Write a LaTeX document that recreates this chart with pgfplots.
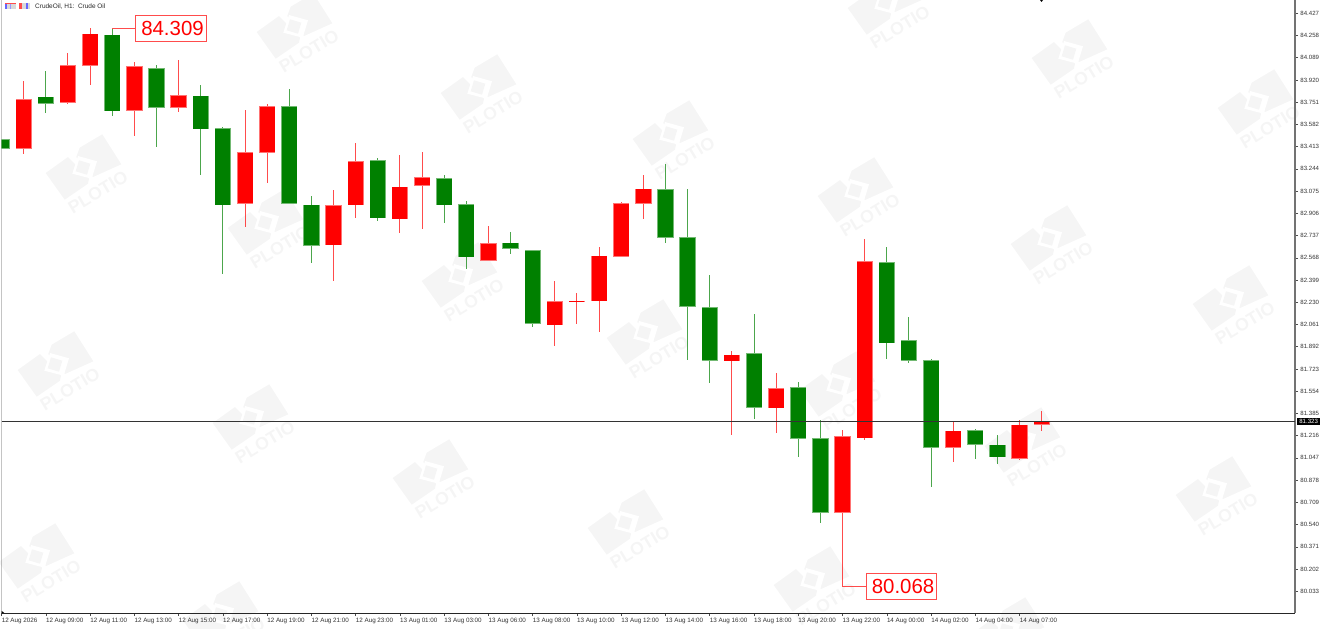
\documentclass[border=0pt]{standalone}
\usepackage{fontspec}
\setmainfont{Liberation Sans}
\usepackage{pgfplots}
\usepackage{pgfplotstable}
\pgfplotsset{compat=1.18}

\definecolor{candlegreen}{RGB}{0,128,0}
\definecolor{candlered}{RGB}{255,0,0}
\definecolor{wmark}{gray}{0.96}

% i hi top bottom lo
\pgfplotstableread{
i  hi     top    bot    lo
0  83.471 83.471 83.398 83.398
2  83.991 83.791 83.740 83.671
5  84.309 84.264 83.682 83.646
7  84.034 84.011 83.707 83.408
9  83.882 83.801 83.545 83.198
10 83.565 83.555 82.967 82.445
13 83.852 83.722 82.977 82.977
14 83.040 82.972 82.658 82.526
17 83.325 83.309 82.869 82.850
20 83.195 83.173 82.967 82.835
21 83.000 82.977 82.572 82.485
23 82.764 82.683 82.635 82.599
24 82.628 82.625 82.065 82.044
30 83.281 83.089 82.721 82.678
31 83.091 82.724 82.197 81.791
32 82.435 82.194 81.786 81.614
34 82.139 81.842 81.429 81.341
36 81.623 81.584 81.193 81.056
37 81.333 81.196 80.630 80.550
40 82.650 82.536 81.918 81.799
41 82.120 81.941 81.786 81.771
42 81.799 81.789 81.125 80.828
44 81.267 81.257 81.145 81.039
45 81.221 81.147 81.052 81.003
}\greencandles

\pgfplotstableread{
i  hi     top    bot    lo
1  83.912 83.775 83.398 83.357
3  84.123 84.034 83.745 83.737
4  84.313 84.270 84.029 83.882
6  84.059 84.024 83.687 83.496
8  84.072 83.804 83.707 83.677
11 83.692 83.370 82.977 82.800
12 83.735 83.720 83.367 83.135
15 83.084 82.967 82.663 82.390
16 83.439 83.304 82.967 82.873
18 83.350 83.109 82.861 82.759
19 83.370 83.180 83.114 82.785
22 82.810 82.678 82.546 82.546
25 82.390 82.238 82.057 81.900
26 82.298 82.242 82.230 82.065
27 82.653 82.584 82.238 82.002
28 82.995 82.983 82.577 82.577
29 83.198 83.094 82.977 82.863
33 81.862 81.832 81.781 81.223
35 81.690 81.578 81.424 81.239
38 81.259 81.211 80.630 80.068
39 82.711 82.542 81.198 81.185
43 81.318 81.252 81.125 81.018
46 81.333 81.299 81.039 81.029
47 81.404 81.323 81.297 81.254
}\redcandles

% wick, light edge of the body, body
\newcommand{\candles}[2]{
  \addplot[draw=none, forget plot, error bars/.cd, y dir=both, y explicit, error mark=none,
    error bar style={draw=#2, opacity=0.7, line width=1bp}]
    table[x=i, y=top, y error plus expr=\thisrow{hi}-\thisrow{top}, y error minus expr=\thisrow{top}-\thisrow{lo}] {#1};
  \addplot[draw=none, forget plot, error bars/.cd, y dir=minus, y explicit, error mark=none,
    error bar style={draw=#2!55, line width=16.3bp}]
    table[x=i, y=top, y error minus expr=\thisrow{top}-\thisrow{bot}] {#1};
  \addplot[draw=none, forget plot, error bars/.cd, y dir=minus, y explicit, error mark=none,
    error bar style={draw=#2, line width=15bp}]
    table[x=i, y expr=\thisrow{top}-0.004, y error minus expr=\thisrow{top}-\thisrow{bot}-0.008] {#1};
}

% watermark, centred on image pixel (#1,#2)
\newcommand{\wm}[2]{
  \begin{scope}[shift={({(#1-1.5)*1bp},{(613-#2)*1bp})}, x=1bp, y=1bp]
    \fill[wmark] (-37.3,-6) -- (-15,10) -- (6,-11.7) -- (5,-16.7) -- (-18.3,-32.7) -- cycle;
    \fill[wmark] (-3.3,19.3) -- (19.3,32.7) -- (38.3,2.7) -- (10,-10) -- (-6.7,10) -- cycle;
    \fill[white] (-5,11) -- (14,5.7) -- (8.7,-11.7) -- (-10.7,-6.7) -- cycle;
    \fill[wmark] (-4,6.7) -- (7.3,3.3) -- (4,-7.7) -- (-7.3,-4.3) -- cycle;
    \node[rotate=31, text=wmark, inner sep=0] at (15,-25) {\fontsize{17.8}{20}\selectfont\bfseries PLOTIO};
  \end{scope}
}

\begin{document}
\begin{tikzpicture}
  \path[use as bounding box] (-1.5bp,-16bp) rectangle (1327.5bp,613bp);

  \foreach \wx/\wy in {885/2,1069/52,1255/102,294/26,478/87,670/133,855/190,1048/238,1230/298,
      83/167,265/222,459/275,644/332,837/384,1022/440,1213/489,
      55/364,250/417,430/472,625/522,811/579,1006/630,36/556,220/614}
    {\wm{\wx}{\wy}}

  \begin{axis}[
    at={(0,0)}, anchor=south west,
    scale only axis,
    width=1293.5bp, height=613bp,
    xmin=-0.003, xmax=58.447,
    ymin=79.868, ymax=84.528,
    clip mode=individual,
    axis x line=bottom,
    axis y line=right,
    axis line style={-},
    x axis line style={black!85, line width=0.8bp},
    y axis line style={black!55, line width=1.2bp},
    tick align=outside,
    major tick length=3bp,
    tick style={black!70, line width=0.6bp},
    xtick={0,2,...,46},
    xticklabels={12 Aug 2026,12 Aug 09:00,12 Aug 11:00,12 Aug 13:00,12 Aug 15:00,12 Aug 17:00,
      12 Aug 19:00,12 Aug 21:00,12 Aug 23:00,13 Aug 01:00,13 Aug 03:00,13 Aug 06:00,
      13 Aug 08:00,13 Aug 10:00,13 Aug 12:00,13 Aug 14:00,13 Aug 16:00,13 Aug 18:00,
      13 Aug 20:00,13 Aug 22:00,14 Aug 00:00,14 Aug 02:00,14 Aug 04:00,14 Aug 07:00},
    x tick label style={anchor=north west, inner sep=0pt, yshift=-2bp, text=black!80,
      font=\fontsize{6.3}{7}\selectfont},
    ytick={80.033,80.202,80.371,80.540,80.709,80.878,81.047,81.216,81.385,81.554,81.723,81.892,
      82.061,82.230,82.399,82.568,82.737,82.906,83.075,83.244,83.413,83.582,83.751,83.920,
      84.089,84.258,84.427},
    y tick label style={anchor=west, inner sep=0pt, xshift=2.2bp, text=black!80,
      font=\fontsize{6.1}{7}\selectfont,
      /pgf/number format/fixed, /pgf/number format/fixed zerofill,
      /pgf/number format/precision=3, /pgf/number format/assume math mode=true},
    scaled y ticks=false,
    ]

    % left border
    \addplot[black!65, line width=1bp, forget plot] coordinates {(-0.003,79.868) (-0.003,84.528)};

    \candles{\greencandles}{candlegreen}
    \candles{\redcandles}{candlered}

    % last price line
    \addplot[black!80, line width=0.8bp, forget plot] coordinates {(-0.003,81.323) (58.447,81.323)};

    % high and low callouts
    \addplot[candlered, opacity=0.7, line width=0.8bp, forget plot] coordinates {(5,84.309) (6.1,84.309)};
    \addplot[candlered, opacity=0.7, line width=0.8bp, forget plot] coordinates {(38,80.068) (39.1,80.068)};
    \node[draw=candlered!70, fill=white, line width=0.8bp, text=candlered, inner sep=0pt,
      minimum width=71bp, minimum height=26bp, font=\fontsize{20.5}{22}\selectfont]
      at (axis cs:7.656,84.311) {\hspace*{3bp}84.309};
    \node[draw=candlered!70, fill=white, line width=0.8bp, text=candlered, inner sep=0pt,
      minimum width=70.4bp, minimum height=26bp, font=\fontsize{20.5}{22}\selectfont]
      at (axis cs:40.665,80.071) {\hspace*{3bp}80.068};

    % last price tag
    \node[fill=black, text=white, inner sep=0pt, minimum width=23bp, minimum height=6.8bp,
      font=\fontsize{6.1}{7}\selectfont] at (axis cs:59.06,81.323) {81.323};
  \end{axis}

  % chart header
  \fill[black!15] (3.5bp,603.5bp) rectangle (14.2bp,610.3bp);
  \fill[red!70] (3.5bp,608.5bp) rectangle (14.2bp,610.3bp);
  \fill[blue!60] (3.5bp,603.5bp) rectangle (5.5bp,608.5bp);
  \fill[blue!40] (8bp,603.5bp) rectangle (9.5bp,608.5bp);
  \fill[black!15] (17.5bp,603.5bp) rectangle (28.5bp,610.3bp);
  \fill[red!70] (17.5bp,603.5bp) rectangle (20bp,610.3bp);
  \fill[blue!60] (24bp,603.5bp) rectangle (26bp,610.3bp);
  \node[anchor=west, inner sep=0pt, text=black!85, font=\fontsize{6.5}{7}\selectfont]
    at (33.5bp,606.3bp) {CrudeOil, H1:\ \ Crude Oil};

  % small markers at the chart edges
  \fill[black] (1038.5bp,613bp) -- (1041.5bp,613bp) -- (1040bp,611bp) -- cycle;
  \fill[black] (0bp,2.2bp) -- (0bp,-0.2bp) -- (3bp,-0.2bp) -- cycle;
\end{tikzpicture}
\end{document}
